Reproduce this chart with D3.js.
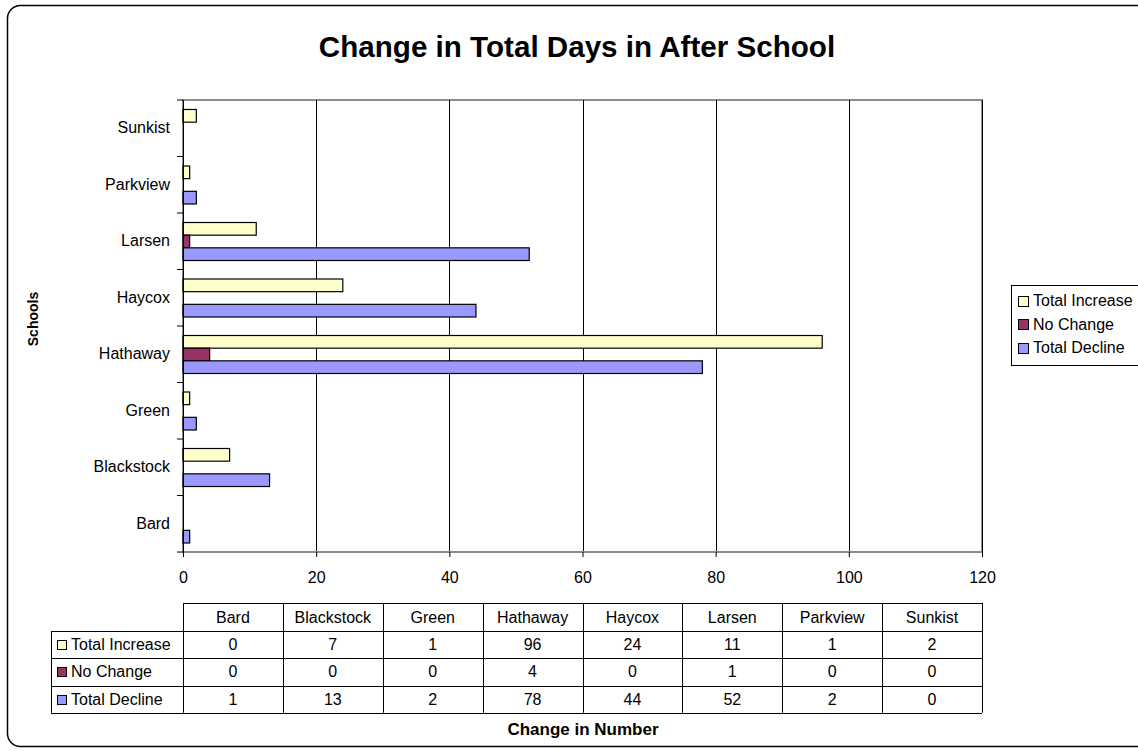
<!DOCTYPE html>
<html>
<head>
<meta charset="utf-8">
<script src="https://cdn.jsdelivr.net/npm/d3@7"></script>
<style>
  body { margin: 0; background: #fff; }
  svg { display: block; font-family: "Liberation Sans", Arial, sans-serif; }
</style>
</head>
<body>
<svg id="chart" width="1138" height="751"></svg>
<script>
const schools = ["Bard", "Blackstock", "Green", "Hathaway", "Haycox", "Larsen", "Parkview", "Sunkist"];
const seriesNames = ["Total Increase", "No Change", "Total Decline"];
const totalIncrease = [0, 7, 1, 96, 24, 11, 1, 2];
const noChange = [0, 0, 0, 4, 0, 1, 0, 0];
const totalDecline = [1, 13, 2, 78, 44, 52, 2, 0];
const xTicks = [0, 20, 40, 60, 80, 100, 120];
const colors = ["#FFFFCC", "#993366", "#9999FF"];

(function () {
const seriesValues = [totalIncrease, noChange, totalDecline];

const svg = d3.select("#chart");

// outer rounded border
svg.append("rect")
  .attr("x", 7.5).attr("y", 5.5)
  .attr("width", 1160).attr("height", 741)
  .attr("rx", 13).attr("ry", 13)
  .attr("fill", "#fff").attr("stroke", "#000").attr("stroke-width", 1.5);

const pL = 183, pR = 982, pT = 100, pB = 552;

const x = d3.scaleLinear().domain([0, 120]).range([pL, pR]);
const y = d3.scaleBand().domain(schools.slice().reverse()).range([pT, pB]).paddingInner(0).paddingOuter(0);
const yInner = d3.scaleBand().domain(seriesNames).range([9.5, 47.5]);

// plot area border (gray)
svg.append("rect")
  .attr("x", pL).attr("y", pT)
  .attr("width", pR - pL).attr("height", pB - pT)
  .attr("fill", "none").attr("stroke", "#8c8c8c").attr("stroke-width", 2);

// gridlines
svg.append("g").selectAll("line")
  .data(xTicks.filter(t => t > 0))
  .join("line")
  .attr("x1", d => Math.round(x(d)) + 0.5).attr("x2", d => Math.round(x(d)) + 0.5)
  .attr("y1", pT).attr("y2", pB)
  .attr("stroke", "#000").attr("stroke-width", 1);

// bars
const barData = [];
schools.forEach((s, i) => {
  seriesNames.forEach((n, j) => {
    barData.push({ school: s, series: n, value: seriesValues[j][i], color: colors[j] });
  });
});
svg.append("g").selectAll("rect")
  .data(barData.filter(d => d.value > 0))
  .join("rect")
  .attr("x", x(0))
  .attr("y", d => y(d.school) + yInner(d.series))
  .attr("width", d => x(d.value) - x(0))
  .attr("height", yInner.bandwidth())
  .attr("fill", d => d.color)
  .attr("stroke", "#000").attr("stroke-width", 1.2);

// x axis
const xAxis = d3.axisBottom(x).tickValues(xTicks).tickSize(5).tickPadding(15).tickFormat(d3.format("d"));
const gx = svg.append("g").attr("transform", `translate(0,${pB})`).call(xAxis);
gx.select(".domain").attr("stroke", "#8c8c8c").attr("stroke-width", 2).attr("d", `M${pL},0H${pR}`);
gx.selectAll(".tick line").attr("stroke", "#000");
gx.selectAll(".tick text").attr("font-size", 16).attr("fill", "#000").attr("font-family", "Liberation Sans, Arial, sans-serif");

// y axis
const yAxis = d3.axisLeft(y).tickSize(0).tickPadding(13);
const gy = svg.append("g").attr("transform", `translate(${pL},0)`).call(yAxis);
gy.select(".domain").attr("stroke", "#000").attr("stroke-width", 1).attr("d", `M0.5,${pT}V${pB}`);
gy.selectAll(".tick text").attr("font-size", 16).attr("fill", "#000").attr("font-family", "Liberation Sans, Arial, sans-serif");
// boundary ticks
const bounds = schools.map(s => y(s)).concat([pB]);
svg.append("g").selectAll("line")
  .data(bounds)
  .join("line")
  .attr("x1", pL - 6).attr("x2", pL)
  .attr("y1", d => d).attr("y2", d => d)
  .attr("stroke", "#000").attr("stroke-width", 1);

// title
svg.append("text")
  .attr("x", 577).attr("y", 57)
  .attr("text-anchor", "middle")
  .attr("font-size", 29.6).attr("font-weight", "bold")
  .text("Change in Total Days in After School");

// y axis title
svg.append("text")
  .attr("transform", "translate(38,319) rotate(-90)")
  .attr("text-anchor", "middle")
  .attr("font-size", 14).attr("font-weight", "bold")
  .text("Schools");

// x axis title
svg.append("text")
  .attr("x", 583).attr("y", 735)
  .attr("text-anchor", "middle")
  .attr("font-size", 17).attr("font-weight", "bold")
  .text("Change in Number");

// legend
const lg = svg.append("g");
lg.append("rect")
  .attr("x", 1011.5).attr("y", 285.5)
  .attr("width", 140).attr("height", 80)
  .attr("fill", "#fff").attr("stroke", "#000").attr("stroke-width", 1);
seriesNames.forEach((n, j) => {
  const cy = 300.5 + j * 23.5;
  lg.append("rect")
    .attr("x", 1018.5).attr("y", Math.round(cy - 5) + 0.5)
    .attr("width", 10).attr("height", 10)
    .attr("fill", colors[j]).attr("stroke", "#000").attr("stroke-width", 1);
  lg.append("text")
    .attr("x", 1033).attr("y", cy).attr("dy", "0.35em")
    .attr("font-size", 16)
    .text(n);
});

// data table
const tTop = 603, rowH = 27.25, headH = 28;
const colW = (pR - pL) / schools.length;
const labelLeft = 51;
const tg = svg.append("g");
const lineColor = "#000";
const rowYs = [tTop, tTop + headH];
for (let r = 1; r <= 3; r++) rowYs.push(tTop + headH + r * rowH);
const tBottom = rowYs[rowYs.length - 1];
tg.append("line").attr("x1", pL).attr("x2", pR).attr("y1", tTop + 0.5).attr("y2", tTop + 0.5).attr("stroke", lineColor);
rowYs.slice(1).forEach(yy => {
  tg.append("line").attr("x1", labelLeft).attr("x2", pR)
    .attr("y1", Math.round(yy) + 0.5).attr("y2", Math.round(yy) + 0.5).attr("stroke", lineColor);
});
for (let c = 0; c <= schools.length; c++) {
  const xx = Math.round(pL + c * colW) + 0.5;
  tg.append("line").attr("x1", xx).attr("x2", xx).attr("y1", tTop).attr("y2", tBottom).attr("stroke", lineColor);
}
tg.append("line").attr("x1", labelLeft + 0.5).attr("x2", labelLeft + 0.5).attr("y1", tTop + headH).attr("y2", tBottom).attr("stroke", lineColor);
schools.forEach((s, i) => {
  tg.append("text")
    .attr("x", pL + (i + 0.5) * colW).attr("y", tTop + headH / 2).attr("dy", "0.35em")
    .attr("text-anchor", "middle").attr("font-size", 16)
    .text(s);
});
seriesNames.forEach((n, j) => {
  const cy = tTop + headH + (j + 0.5) * rowH;
  tg.append("rect")
    .attr("x", 57.5).attr("y", Math.round(cy - 4.5) + 0.5)
    .attr("width", 9).attr("height", 9)
    .attr("fill", colors[j]).attr("stroke", "#000").attr("stroke-width", 1);
  tg.append("text")
    .attr("x", 71).attr("y", cy).attr("dy", "0.35em")
    .attr("font-size", 16).text(n);
  seriesValues[j].forEach((v, i) => {
    tg.append("text")
      .attr("x", pL + (i + 0.5) * colW).attr("y", cy).attr("dy", "0.35em")
      .attr("text-anchor", "middle").attr("font-size", 16)
      .text(v);
  });
});
})();
</script>
</body>
</html>
